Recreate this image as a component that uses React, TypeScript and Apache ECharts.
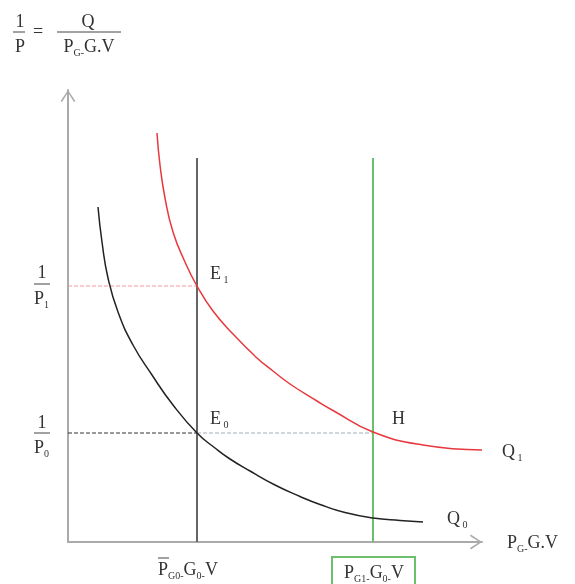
import React, { useEffect, useRef } from "react";
import * as echarts from "echarts";

// ---- data (economic diagram, arbitrary units) ----
const Q1_X = [8.9, 9.2, 9.7, 10.5, 11.7, 12.9, 14.5, 16.5, 18.9, 20.5, 22.2, 24.9, 26.5, 30.5, 35.5, 41.4];
const Q1_Y = [40.9, 37.7, 34.4, 31.0, 28.0, 25.6, 23.1, 20.8, 18.4, 17.1, 15.8, 14.1, 13.15, 11.0, 9.7, 9.2];
const Q0_X = [3.0, 3.4, 4.0, 5.0, 6.5, 8.4, 10.5, 12.9, 14.7, 16.2, 18.2, 20.7, 23.2, 25.2, 27.7, 30.5, 33.2, 35.5];
const Q0_Y = [33.5, 30.0, 26.4, 23.0, 19.7, 16.7, 13.7, 10.9, 9.4, 8.3, 7.1, 5.7, 4.55, 3.75, 2.95, 2.4, 2.15, 2.0];
const X_G0 = 12.9; // P̄G0·G0·V
const X_G1 = 30.5; // PG1·G0·V
const Y_P1 = 25.6; // 1/P1
const Y_P0 = 10.9; // 1/P0
const V_TOP = 38.4;
const X_MAX = 41.4;
const Y_MAX = 45.2;

const FONT = '"Liberation Serif", "DejaVu Serif", serif';
const TXT = "#333";
const AXIS = "#aaaaaa";
const RED = "#e8383d";
const GREEN = "#6cbf6c";
const ARROW = "path://M0,12 L8,0 L16,12 L14.4,12.9 L8,2.8 L1.6,12.9 Z";

const zip = (xs: number[], ys: number[]) => xs.map((x, i) => [x, ys[i]]);

const GRICH = {
  m: { fontSize: 18, fontFamily: FONT, fill: TXT, lineHeight: 22 },
  s: { fontSize: 10, fontFamily: FONT, fill: TXT, verticalAlign: "bottom", lineHeight: 12 },
};
const CRICH = {
  m: { fontSize: 18, fontFamily: FONT, color: TXT, lineHeight: 22 },
  s: { fontSize: 10, fontFamily: FONT, color: TXT, verticalAlign: "bottom", lineHeight: 12 },
};

function txt(x: number, y: number, text: string, align = "left", vAlign = "middle") {
  return {
    type: "text",
    x,
    y,
    silent: true,
    style: {
      text,
      rich: GRICH,
      fill: TXT,
      fontSize: 18,
      fontFamily: FONT,
      align,
      verticalAlign: vAlign,
      textAlign: align,
      textVerticalAlign: vAlign,
    },
  };
}
function hline(x1: number, x2: number, y: number, color = "#444", w = 1) {
  return { type: "line", silent: true, shape: { x1, y1: y, x2, y2: y }, style: { stroke: color, lineWidth: w } };
}

export default function App() {
  const ref = useRef<HTMLDivElement>(null);
  useEffect(() => {
    const chart = echarts.init(ref.current!, null, { renderer: "svg" });
    const seg = (pts: number[][], color: string, width: number, type = "solid", smooth: any = false, z = 2) => ({
      type: "line",
      data: pts,
      symbol: "none",
      showSymbol: false,
      smooth,
      lineStyle: { color, width, type },
      z,
      silent: true,
    });
    const axisBase = {
      type: "value",
      axisLine: {
        show: true,
        onZero: false,
        lineStyle: { color: AXIS, width: 2 },
        symbol: ["none", ARROW],
        symbolSize: [16, 12],
        symbolOffset: [0, -6],
      },
      axisTick: { show: false },
      axisLabel: { show: false },
      splitLine: { show: false },
    };
    chart.setOption({
      animation: false,
      grid: { left: 68, right: 93, top: 90, bottom: 42 },
      xAxis: {
        ...axisBase,
        min: 0,
        max: X_MAX,
        name: "{m|P}{s|G-}{m|G.V}",
        nameLocation: "end",
        nameGap: 25,
        nameTextStyle: { rich: CRICH, color: TXT, fontFamily: FONT, fontSize: 18, align: "left", verticalAlign: "middle" },
      },
      yAxis: { ...axisBase, min: 0, max: Y_MAX },
      series: [
        seg([[0, Y_P1], [X_G0, Y_P1]], "#f29a9a", 1, "dashed", false, 1),
        seg([[0, Y_P0], [X_G0, Y_P0]], "#333333", 1, "dashed", false, 1),
        seg([[X_G0, Y_P0], [X_G1, Y_P0]], "#a3adb8", 1, "dashed", false, 1),
        seg([[X_G0, 0], [X_G0, V_TOP]], "#666666", 2, "solid", false, 2),
        seg([[X_G1, 0], [X_G1, V_TOP]], GREEN, 2, "solid", false, 2),
        seg(zip(Q1_X, Q1_Y), RED, 1.5, "solid", 0.5, 3),
        seg(zip(Q0_X, Q0_Y), "#222222", 1.5, "solid", 0.5, 3),
      ],
    });

    const p = (x: number, y: number) => chart.convertToPixel({ gridIndex: 0 }, [x, y]) as number[];
    const ax = p(0, 0);
    const e1 = p(X_G0, Y_P1);
    const e0 = p(X_G0, Y_P0);
    const h = p(X_G1, Y_P0);
    const q1 = p(Q1_X[Q1_X.length - 1], Q1_Y[Q1_Y.length - 1]);
    const q0 = p(Q0_X[Q0_X.length - 1], Q0_Y[Q0_Y.length - 1]);
    const g0 = p(X_G0, 0);
    const g1 = p(X_G1, 0);

    const elements: any[] = [
      // title formula 1/P = Q / (PG-G.V)
      txt(20, 21, "{m|1}", "center"),
      hline(13, 25, 32),
      txt(20, 46, "{m|P}", "center"),
      txt(38, 31, "{m|=}", "center"),
      txt(88, 21, "{m|Q}", "center"),
      hline(57, 121, 32),
      txt(89, 46, "{m|P}{s|G-}{m|G.V}", "center"),
      // y-axis fractions
      txt(ax[0] - 26, e1[1] - 14, "{m|1}", "center"),
      hline(ax[0] - 34, ax[0] - 18, e1[1] - 2),
      txt(ax[0] - 34, e1[1] + 12, "{m|P}{s|1}", "left"),
      txt(ax[0] - 26, e0[1] - 11, "{m|1}", "center"),
      hline(ax[0] - 34, ax[0] - 18, e0[1]),
      txt(ax[0] - 34, e0[1] + 14, "{m|P}{s|0}", "left"),
      // point labels
      txt(e1[0] + 13, e1[1] - 13, "{m|E}{s| 1}"),
      txt(e0[0] + 13, e0[1] - 15, "{m|E}{s| 0}"),
      txt(h[0] + 19, h[1] - 15, "{m|H}"),
      txt(q1[0] + 20, q1[1] + 1, "{m|Q}{s| 1}"),
      txt(q0[0] + 24, q0[1] - 4, "{m|Q}{s| 0}"),
      // x-axis labels
      txt(g0[0] - 39, g0[1] + 27, "{m|P}{s|G0-}{m|G}{s|0-}{m|V}"),
      hline(g0[0] - 39, g0[0] - 28, g0[1] + 16, "#444", 1),
      txt(g1[0] + 1, g1[1] + 30, "{m|P}{s|G1-}{m|G}{s|0-}{m|V}", "center"),
      {
        type: "rect",
        silent: true,
        shape: { x: g1[0] - 41, y: g1[1] + 15, width: 83, height: 32 },
        style: { fill: "none", stroke: GREEN, lineWidth: 2 },
      },
    ];
    chart.setOption({ graphic: { elements } });
    return () => chart.dispose();
  }, []);
  return <div ref={ref} style={{ position: "fixed", left: 0, top: 0, width: 575, height: 584 }} />;
}
